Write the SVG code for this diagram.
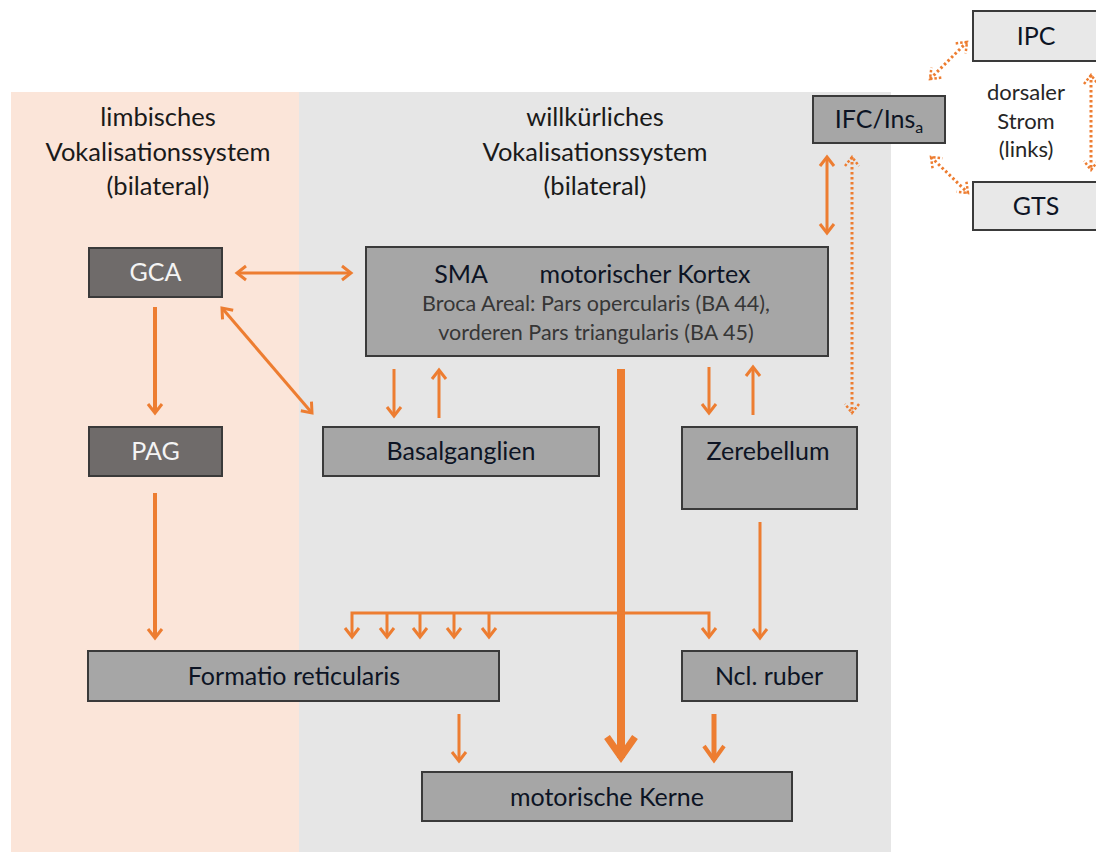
<svg xmlns="http://www.w3.org/2000/svg" width="1096" height="852" viewBox="0 0 1096 852">
  <style>
    .bg { fill: #ffffff; }
    .panel-limbic { fill: #fbe5d9; }
    .panel-vol { fill: #e6e6e6; }
    .box { stroke: #3a3a3a; stroke-width: 2; }
    .dark { fill: #6f6b6a; }
    .mid { fill: #a6a6a6; }
    .light { fill: #e8e8e8; }
    text { font-family: Lato, "Liberation Sans", sans-serif; text-anchor: middle; }
    .hdr { font-size: 25.5px; fill: #1a1a1a; }
    .lbl { font-size: 25px; fill: #0d1424; }
    .lbl-w { font-size: 25px; fill: #f4f4f4; }
    .sub { font-size: 21.5px; fill: #363636; }
    .side { font-size: 22px; fill: #262626; }
    .c { fill: none; stroke: #ed7d31; stroke-linecap: butt; }
    .w3 { stroke-width: 3; }
    .w4 { stroke-width: 4; }
    .dot { stroke-width: 3; stroke-dasharray: 2.5 2.5; }
  </style>
  <defs>
    <marker id="head" markerUnits="userSpaceOnUse" markerWidth="14" markerHeight="18" refX="11" refY="8" orient="auto-start-reverse" overflow="visible">
      <path d="M2,1 L11,8 L2,15" fill="none" stroke="#ed7d31" stroke-width="3" stroke-linejoin="miter"/>
    </marker>
    <marker id="headDot" markerUnits="userSpaceOnUse" markerWidth="14" markerHeight="18" refX="11" refY="8" orient="auto-start-reverse" overflow="visible">
      <path d="M2,1 L11,8 L2,15" fill="none" stroke="#ed7d31" stroke-width="2.5" stroke-dasharray="2.5 2"/>
    </marker>
  </defs>

  <rect class="bg" x="0" y="0" width="1096" height="852"/>

  <!-- system panels -->
  <g id="panels">
    <rect class="panel-limbic" x="11" y="92" width="288" height="760"/>
    <rect class="panel-vol" x="299" y="92" width="592" height="760"/>
  </g>

  <g id="headers">
    <text class="hdr" x="158" y="126">limbisches</text>
    <text class="hdr" x="158" y="161">Vokalisationssystem</text>
    <text class="hdr" x="158" y="195">(bilateral)</text>
    <text class="hdr" x="595" y="126">willkürliches</text>
    <text class="hdr" x="595" y="161">Vokalisationssystem</text>
    <text class="hdr" x="595" y="195">(bilateral)</text>
  </g>

  <!-- connectors -->
  <g id="connectors">
    <!-- GCA <-> SMA -->
    <line class="c w3" x1="237" y1="273" x2="351" y2="273" marker-start="url(#head)" marker-end="url(#head)"/>
    <!-- GCA <-> Basalganglien -->
    <line class="c w3" x1="222" y1="308" x2="312" y2="413" marker-start="url(#head)" marker-end="url(#head)"/>
    <!-- GCA -> PAG -->
    <line class="c w4" x1="155" y1="307" x2="155" y2="413" marker-end="url(#head)"/>
    <!-- PAG -> Formatio reticularis -->
    <line class="c w4" x1="155" y1="493" x2="155" y2="638" marker-end="url(#head)"/>
    <!-- SMA <-> Basalganglien -->
    <line class="c w3" x1="394" y1="369" x2="394" y2="416" marker-end="url(#head)"/>
    <line class="c w3" x1="439" y1="418" x2="439" y2="370" marker-end="url(#head)"/>
    <!-- SMA <-> Zerebellum -->
    <line class="c w3" x1="709" y1="367" x2="709" y2="413" marker-end="url(#head)"/>
    <line class="c w3" x1="753" y1="415" x2="753" y2="367" marker-end="url(#head)"/>
    <!-- IFC <-> SMA -->
    <line class="c w3" x1="827" y1="157" x2="827" y2="233" marker-start="url(#head)" marker-end="url(#head)"/>
    <!-- IFC <-> Zerebellum (dotted) -->
    <line class="c dot" x1="852" y1="157" x2="852" y2="413" marker-start="url(#headDot)" marker-end="url(#headDot)"/>
    <!-- dorsal stream (dotted) -->
    <line class="c dot" x1="930" y1="79" x2="967" y2="42" marker-start="url(#headDot)" marker-end="url(#headDot)"/>
    <line class="c dot" x1="931" y1="157" x2="968" y2="193" marker-start="url(#headDot)" marker-end="url(#headDot)"/>
    <line class="c dot" x1="1091" y1="75" x2="1091" y2="170" marker-start="url(#headDot)" marker-end="url(#headDot)"/>
    <!-- SMA -> motorische Kerne (main tract) -->
    <line class="c" stroke-width="8" x1="621" y1="369" x2="621" y2="758"/>
    <polyline class="c" stroke-width="7" points="607,737 621,757 635,737"/>
    <!-- branch to Formatio reticularis and Ncl. ruber -->
    <polyline class="c w3" points="352,637 352,613 709,613 709,637" marker-start="url(#head)" marker-end="url(#head)"/>
    <line class="c w3" x1="387" y1="613" x2="387" y2="637" marker-end="url(#head)"/>
    <line class="c w3" x1="420" y1="613" x2="420" y2="637" marker-end="url(#head)"/>
    <line class="c w3" x1="454" y1="613" x2="454" y2="637" marker-end="url(#head)"/>
    <line class="c w3" x1="489" y1="613" x2="489" y2="637" marker-end="url(#head)"/>
    <!-- Zerebellum -> Ncl. ruber -->
    <line class="c w3" x1="760" y1="522" x2="760" y2="638" marker-end="url(#head)"/>
    <!-- Formatio reticularis -> motorische Kerne -->
    <line class="c w3" x1="459" y1="714" x2="459" y2="761" marker-end="url(#head)"/>
    <!-- Ncl. ruber -> motorische Kerne -->
    <line class="c" stroke-width="5" x1="714" y1="714" x2="714" y2="760"/>
    <polyline class="c" stroke-width="4" points="704,746 714,760 724,746"/>
  </g>

  <!-- nodes -->
  <g id="node-gca">
    <rect class="box dark" x="89" y="248" width="133" height="49"/>
    <text class="lbl-w" x="155.5" y="281">GCA</text>
  </g>
  <g id="node-pag">
    <rect class="box dark" x="89" y="427" width="133" height="49"/>
    <text class="lbl-w" x="155.5" y="460">PAG</text>
  </g>
  <g id="node-sma">
    <rect class="box mid" x="366" y="247" width="462" height="109"/>
    <text class="lbl" x="461" y="283">SMA</text>
    <text class="lbl" x="645" y="283">motorischer Kortex</text>
    <text class="sub" x="596" y="311">Broca Areal: Pars opercularis (BA 44),</text>
    <text class="sub" x="596" y="340">vorderen Pars triangularis (BA 45)</text>
  </g>
  <g id="node-basalganglien">
    <rect class="box mid" x="323" y="427" width="276" height="49"/>
    <text class="lbl" x="461" y="460">Basalganglien</text>
  </g>
  <g id="node-zerebellum">
    <rect class="box mid" x="682" y="427" width="175" height="82"/>
    <text class="lbl" x="768" y="460">Zerebellum</text>
  </g>
  <g id="node-formatio">
    <rect class="box mid" x="88" y="651" width="411" height="50"/>
    <text class="lbl" x="294" y="685">Formatio reticularis</text>
  </g>
  <g id="node-ruber">
    <rect class="box mid" x="682" y="651" width="175" height="50"/>
    <text class="lbl" x="769" y="685">Ncl. ruber</text>
  </g>
  <g id="node-kerne">
    <rect class="box mid" x="422" y="772" width="370" height="49"/>
    <text class="lbl" x="607" y="806">motorische Kerne</text>
  </g>
  <g id="node-ifc">
    <rect class="box mid" x="813" y="96" width="132" height="47"/>
    <text class="lbl" x="879" y="128">IFC/Ins<tspan font-size="16" dy="5">a</tspan></text>
  </g>
  <g id="node-ipc">
    <rect class="box light" x="973" y="11" width="130" height="50"/>
    <text class="lbl" x="1036" y="45">IPC</text>
  </g>
  <g id="node-gts">
    <rect class="box light" x="973" y="182" width="130" height="48"/>
    <text class="lbl" x="1036" y="215">GTS</text>
  </g>
  <g id="label-dorsal">
    <text class="side" x="1026" y="100">dorsaler</text>
    <text class="side" x="1026" y="129">Strom</text>
    <text class="side" x="1026" y="157">(links)</text>
  </g>
</svg>
